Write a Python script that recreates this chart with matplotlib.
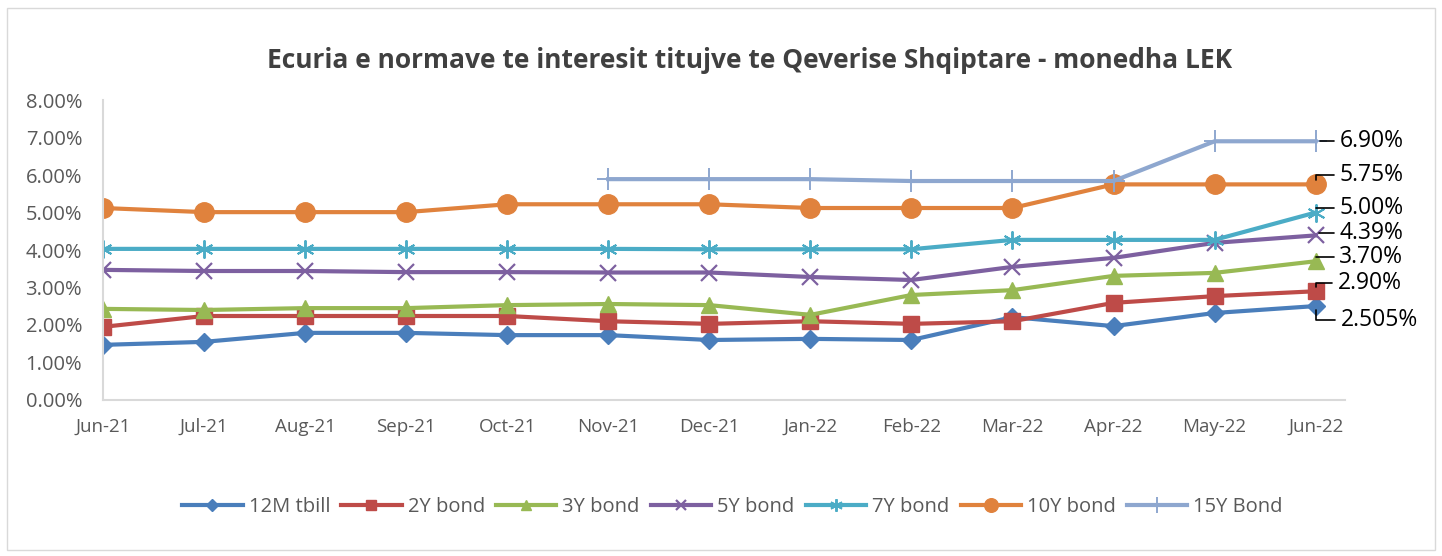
import matplotlib
matplotlib.use('Agg')
import matplotlib.pyplot as plt
from matplotlib.patches import Rectangle
from matplotlib.ticker import PercentFormatter
import numpy as np

plt.rcParams['font.family'] = ['Open Sans', 'DejaVu Sans']

months = ["Jun-21", "Jul-21", "Aug-21", "Sep-21", "Oct-21", "Nov-21", "Dec-21",
          "Jan-22", "Feb-22", "Mar-22", "Apr-22", "May-22", "Jun-22"]

tbill_12m = [1.47, 1.55, 1.79, 1.79, 1.73, 1.73, 1.60, 1.63, 1.60, 2.21, 1.97, 2.32, 2.505]
bond_2y = [1.95, 2.24, 2.24, 2.24, 2.24, 2.10, 2.03, 2.10, 2.03, 2.10, 2.59, 2.77, 2.90]
bond_3y = [2.43, 2.40, 2.45, 2.45, 2.53, 2.56, 2.53, 2.27, 2.80, 2.93, 3.31, 3.39, 3.70]
bond_5y = [3.47, 3.44, 3.44, 3.41, 3.41, 3.40, 3.40, 3.28, 3.20, 3.55, 3.79, 4.19, 4.39]
bond_7y = [4.03, 4.03, 4.03, 4.03, 4.03, 4.03, 4.02, 4.02, 4.02, 4.27, 4.27, 4.27, 5.00]
bond_10y = [5.12, 5.01, 5.01, 5.01, 5.22, 5.22, 5.22, 5.12, 5.12, 5.12, 5.75, 5.75, 5.75]
bond_15y = [np.nan] * 5 + [5.89, 5.89, 5.89, 5.84, 5.84, 5.84, 6.90, 6.90]

labels = ["12M tbill", "2Y bond", "3Y bond", "5Y bond", "7Y bond", "10Y bond", "15Y Bond"]
last_labels = ["2.505%", "2.90%", "3.70%", "4.39%", "5.00%", "5.75%", "6.90%"]

fig = plt.figure(figsize=(14.42, 5.56), dpi=100)
fig.patches.append(Rectangle((0.005, 0.01), 0.99, 0.975, transform=fig.transFigure,
                             fill=False, edgecolor='#d9d9d9', linewidth=1))
ax = fig.add_axes([0.0714, 0.2806, 0.8613, 0.5395])

x = np.arange(len(months))
series = [tbill_12m, bond_2y, bond_3y, bond_5y, bond_7y, bond_10y, bond_15y]
colors = ['#4a7ebb', '#be4b48', '#98b954', '#7d60a0', '#4bacc6', '#e0823d', '#8ea7cf']
markers = ['D', 's', '^', 'x', (6, 2, 0), 'o', '+']
msizes = [9, 11, 11, 11, 13, 14, 16]
mews = [1, 1, 1, 1.6, 1.4, 1, 1.4]

for s, c, m, ms, mw, lab in zip(series, colors, markers, msizes, mews, labels):
    ax.plot(x, s, color=c, marker=m, markersize=ms, markeredgewidth=mw,
            markeredgecolor=c, linewidth=3, label=lab)

# data labels for the last month, with leader lines
offsets = [(18, -10), (16, 6), (17, 3), (17, 2), (17, 3), (17, 7), (17, 0)]
for s, txt, off in zip(series, last_labels, offsets):
    ax.annotate(txt, xy=(x[-1], s[-1]), xytext=off, textcoords='offset points',
                fontsize=16.5, color='black', va='center', ha='left',
                arrowprops=dict(arrowstyle='-', color='black', lw=1.2,
                                connectionstyle='angle,angleA=0,angleB=90,rad=0',
                                relpos=(0, 0.5), shrinkA=2, shrinkB=3))

ax.set_xlim(0, 12.29)
ax.set_ylim(0, 8)
ax.set_yticks(np.arange(0, 9, 1))
ax.yaxis.set_major_formatter(PercentFormatter(decimals=2))
ax.set_xticks(x)
ax.set_xticklabels(months)
ax.tick_params(axis='both', length=0, labelsize=13.5, labelcolor='#595959')
ax.tick_params(axis='y', labelsize=14.5, pad=15)
ax.tick_params(axis='x', pad=13)
for sp in ['top', 'right']:
    ax.spines[sp].set_visible(False)
for sp in ['left', 'bottom']:
    ax.spines[sp].set_color('#d9d9d9')
    ax.spines[sp].set_linewidth(1.5)

fig.suptitle("Ecuria e normave te interesit titujve te Qeverise Shqiptare - monedha LEK",
             x=0.52, y=0.915, fontsize=19, fontweight='bold', color='#404040')

leg = fig.legend(loc='center', bbox_to_anchor=(0.508, 0.088), ncol=7, frameon=False,
                 fontsize=14.5, handlelength=3.0, columnspacing=0.55, handletextpad=0.3,
                 markerscale=0.7)
for t in leg.get_texts():
    t.set_color('#595959')

fig.savefig('out.png', dpi=100)
